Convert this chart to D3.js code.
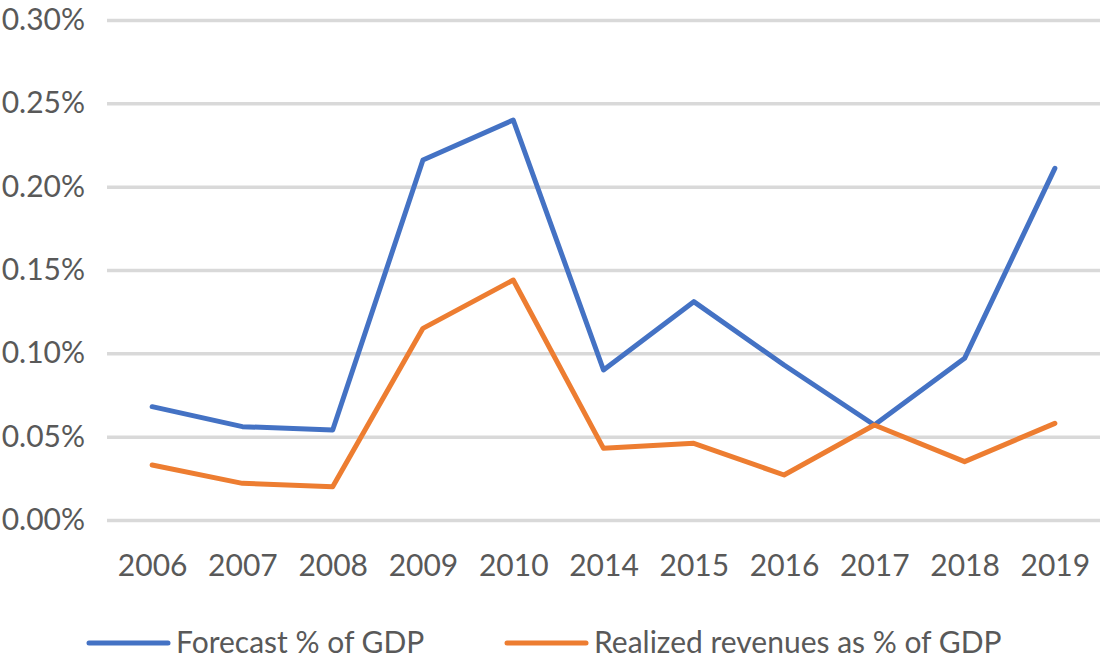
<!DOCTYPE html>
<html>
<head>
<meta charset="utf-8">
<script src="https://cdn.jsdelivr.net/npm/d3@7"></script>
<style>
    body { margin: 0; background: #fff; }
    .axis text { font-family: Lato, "Open Sans", sans-serif; font-size: 30px; fill: #595959; }
    .legend text { font-family: Lato, "Open Sans", sans-serif; font-size: 30px; fill: #595959; }
</style>
</head>
<body>
<div id="chart"></div>
<script>
// values are already in percent of GDP
const years = ["2006", "2007", "2008", "2009", "2010", "2014", "2015", "2016", "2017", "2018", "2019"];
const forecast = [0.068, 0.056, 0.054, 0.216, 0.240, 0.090, 0.131, 0.093, 0.057, 0.097, 0.211];
const realized = [0.033, 0.022, 0.020, 0.115, 0.144, 0.043, 0.046, 0.027, 0.057, 0.035, 0.058];
const yTicks = [0, 0.05, 0.10, 0.15, 0.20, 0.25, 0.30];

const seriesList = [
    {name: "Forecast % of GDP", values: forecast, color: "#4472C4"},
    {name: "Realized revenues as % of GDP", values: realized, color: "#ED7D31"}
];

const margin = {top: 20, right: 0, bottom: 143, left: 107};
const size = {width: 1100, height: 663};
const width = size.width - margin.left - margin.right;
const height = size.height - margin.top - margin.bottom;

const svg = d3.select("#chart").append("svg")
    .attr("width", size.width)
    .attr("height", size.height);

const g = svg.append("g")
    .attr("transform", "translate(" + margin.left + "," + margin.top + ")");

const xScale = d3.scalePoint().domain(years).range([0, width]).padding(0.5);
const yScale = d3.scaleLinear().domain([0, 0.30]).range([height, 0]);

// y axis with gridlines
const yAxisG = g.append("g")
    .attr("class", "axis yAxisG")
    .call(d3.axisLeft(yScale)
        .tickValues(yTicks)
        .tickSize(-width)
        .tickPadding(22)
        .tickFormat(d => d3.format(".2f")(d) + "%"));
yAxisG.select(".domain").remove();
yAxisG.selectAll(".tick line")
    .attr("stroke", "#d9d9d9")
    .attr("stroke-width", 3.5);

// x axis, labels only
const xAxisG = g.append("g")
    .attr("class", "axis xAxisG")
    .attr("transform", "translate(0," + height + ")")
    .call(d3.axisBottom(xScale).tickSize(0).tickPadding(35));
xAxisG.select(".domain").remove();

const line = d3.line()
    .x((d, i) => xScale(years[i]))
    .y(d => yScale(d));

g.selectAll(".seriesLine")
    .data(seriesList)
    .join("path")
    .attr("class", "seriesLine")
    .attr("fill", "none")
    .attr("stroke", d => d.color)
    .attr("stroke-width", 5)
    .attr("stroke-linejoin", "round")
    .attr("stroke-linecap", "round")
    .attr("d", d => line(d.values));

// legend
const legendX = [89, 507];
const legendG = svg.append("g").attr("class", "legend");
const itemG = legendG.selectAll(".legendItem")
    .data(seriesList)
    .join("g")
    .attr("class", "legendItem")
    .attr("transform", (d, i) => "translate(" + legendX[i] + ",643)");
itemG.append("line")
    .attr("x1", 0).attr("x2", 79)
    .attr("stroke", d => d.color)
    .attr("stroke-width", 5)
    .attr("stroke-linecap", "round");
itemG.append("text")
    .attr("x", 87)
    .attr("y", 10)
    .text(d => d.name);
</script>
</body>
</html>
